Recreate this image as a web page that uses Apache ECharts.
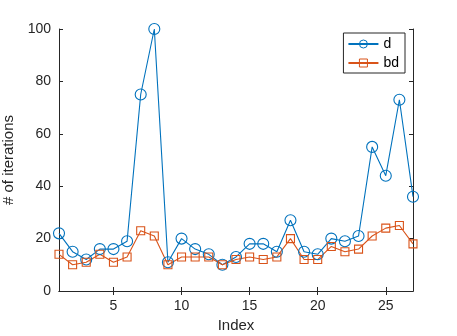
<!DOCTYPE html>
<html>
<head>
<meta charset="utf-8">
<script src="https://cdn.jsdelivr.net/npm/echarts@6/dist/echarts.min.js"></script>
<style>
  html, body { margin: 0; padding: 0; background: #fff; }
  #main { width: 457px; height: 336px; }
</style>
</head>
<body>
<div id="main"></div>
<script>
var indexes = [1,2,3,4,5,6,7,8,9,10,11,12,13,14,15,16,17,18,19,20,21,22,23,24,25,26,27];
var dValues = [22,15,12,16,16,19,75,100,11,20,16,14,10,13,18,18,15,27,15,14,20,19,21,55,44,73,36];
var bdValues = [14,10,11,14,11,13,23,21,10,13,13,13,10,12,13,12,13,20,12,12,17,15,16,21,24,25,18];
var xTicks = [5,10,15,20,25];

function pairs(vals) {
  return indexes.map(function (x, i) { return [x, vals[i]]; });
}

var chartDom = document.getElementById("main");
var myChart = echarts.init(chartDom);
var font = "Liberation Sans, Helvetica, Arial, sans-serif";
var axisLine = { show: true, lineStyle: { color: "#262626", width: 1 } };

var option = {
  animation: false,
  grid: { left: 59, right: 44, top: 29, bottom: 45, containLabel: false, outerBoundsMode: "none" },
  legend: {
    right: 52, top: 33,
    orient: "vertical",
    itemWidth: 30, itemHeight: 10, itemGap: 5,
    padding: [4, 6, 3, 4],
    borderColor: "#262626", borderWidth: 1,
    backgroundColor: "#fff",
    itemStyle: { borderWidth: 1 },
    textStyle: { fontFamily: font, fontSize: 14, color: "#000" },
    data: ["d", "bd"]
  },
  xAxis: [{
    type: "value", min: 1, max: 27,
    name: "Index", nameLocation: "middle", nameGap: 26,
    nameTextStyle: { fontFamily: font, fontSize: 15, color: "#262626" },
    axisLine: axisLine,
    axisTick: { inside: true, length: 4, customValues: xTicks, lineStyle: { color: "#262626" } },
    axisLabel: { customValues: xTicks, fontFamily: font, fontSize: 14, color: "#262626", margin: 8 },
    splitLine: { show: false }
  }, {
    type: "value", min: 1, max: 27, position: "top",
    axisLine: axisLine,
    axisTick: { inside: true, length: 4, customValues: xTicks, lineStyle: { color: "#262626" } },
    axisLabel: { show: false },
    splitLine: { show: false }
  }],
  yAxis: [{
    type: "value", min: 0, max: 100, interval: 20,
    name: "# of iterations", nameLocation: "middle", nameGap: 35,
    nameTextStyle: { fontFamily: font, fontSize: 15, color: "#262626" },
    axisLine: axisLine,
    axisTick: { inside: true, length: 4, lineStyle: { color: "#262626" } },
    axisLabel: { fontFamily: font, fontSize: 14, color: "#262626", margin: 8 },
    splitLine: { show: false }
  }, {
    type: "value", min: 0, max: 100, interval: 20, position: "right",
    axisLine: axisLine,
    axisTick: { inside: true, length: 4, lineStyle: { color: "#262626" } },
    axisLabel: { show: false },
    splitLine: { show: false }
  }],
  series: [{
    name: "d", type: "line", data: pairs(dValues),
    symbol: "circle", symbolSize: 11,
    lineStyle: { color: "#0072BD", width: 1.1 },
    itemStyle: { color: "rgba(0,0,0,0)", borderColor: "#0072BD", borderWidth: 1.1 }
  }, {
    name: "bd", type: "line", data: pairs(bdValues),
    symbol: "rect", symbolSize: 8,
    lineStyle: { color: "#D95319", width: 1.1 },
    itemStyle: { color: "rgba(0,0,0,0)", borderColor: "#D95319", borderWidth: 1.1 }
  }]
};

option && myChart.setOption(option);
</script>
</body>
</html>
